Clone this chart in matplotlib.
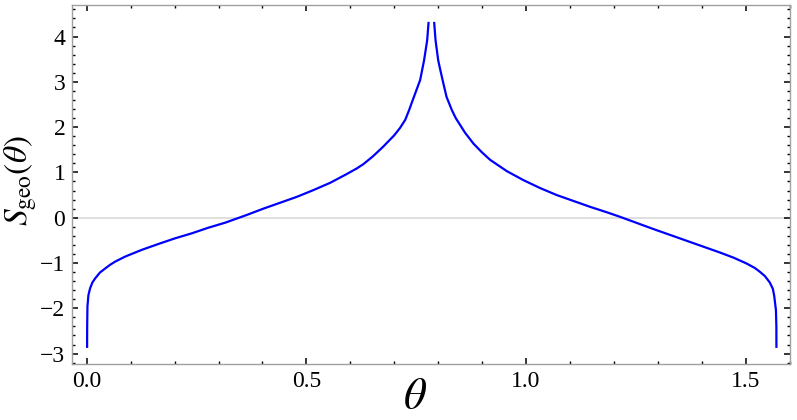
import matplotlib
matplotlib.use("Agg")
import matplotlib.pyplot as plt
from matplotlib.ticker import MultipleLocator, FuncFormatter

# values
theta_left = [0.0007, 0.0009, 0.0015, 0.0037, 0.0075, 0.0128, 0.019, 0.030,
              0.042, 0.053, 0.0645, 0.087, 0.125, 0.163, 0.201, 0.239,
              0.277, 0.315, 0.338, 0.364, 0.402, 0.440, 0.478, 0.516,
              0.554, 0.592, 0.615, 0.630, 0.652, 0.675, 0.700, 0.713,
              0.725, 0.734, 0.743, 0.759, 0.768, 0.775, 0.778]
s_left = [-2.85, -2.40, -1.96, -1.71, -1.56, -1.43, -1.34, -1.21,
          -1.12, -1.04, -0.97, -0.86, -0.71, -0.58, -0.455, -0.345,
          -0.22, -0.11, -0.03, 0.06, 0.20, 0.33, 0.46, 0.61,
          0.77, 0.965, 1.09, 1.185, 1.36, 1.57, 1.82, 1.98,
          2.16, 2.38, 2.62, 3.04, 3.48, 3.92, 4.30]

theta_right = [0.791, 0.794, 0.800, 0.804, 0.811, 0.819, 0.831, 0.840,
               0.861, 0.880, 0.899, 0.918, 0.956, 0.994, 1.032, 1.070,
               1.108, 1.146, 1.184, 1.214, 1.252, 1.290, 1.328, 1.366,
               1.404, 1.442, 1.472, 1.502, 1.521, 1.532, 1.544, 1.555,
               1.562, 1.565, 1.569, 1.5700, 1.5701]
s_right = [4.30, 3.92, 3.48, 3.30, 3.00, 2.67, 2.38, 2.20,
           1.88, 1.64, 1.45, 1.28, 1.03, 0.83, 0.655, 0.50,
           0.37, 0.24, 0.12, 0.02, -0.115, -0.25, -0.38, -0.51,
           -0.64, -0.77, -0.88, -1.01, -1.11, -1.19, -1.29, -1.43,
           -1.57, -1.72, -2.04, -2.40, -2.85]

plt.rcParams['font.family'] = ['Liberation Serif', 'DejaVu Serif']
plt.rcParams['mathtext.fontset'] = 'stix'

fig = plt.figure(figsize=(7.97, 4.2), dpi=100)
ax = fig.add_axes([0.0907, 0.1333, 0.9005, 0.8541])

ax.axhline(0, color='#dcdcdc', lw=1.3, zorder=1)
ax.plot(theta_left, s_left, color='#0000ff', lw=1.6, zorder=3,
        solid_joinstyle='round')
ax.plot(theta_right, s_right, color='#0000ff', lw=1.6, zorder=3,
        solid_joinstyle='round')

ax.set_xlim(-0.033, 1.601)
ax.set_ylim(-3.23, 4.69)

ax.xaxis.set_major_locator(MultipleLocator(0.5))
ax.xaxis.set_minor_locator(MultipleLocator(0.1))
ax.yaxis.set_major_locator(MultipleLocator(1))
ax.yaxis.set_minor_locator(MultipleLocator(0.2))
ax.xaxis.set_major_formatter(FuncFormatter(lambda v, p: '%.1f' % v))
ax.yaxis.set_major_formatter(
    FuncFormatter(lambda v, p: ('%d' % round(v)).replace('-', '\u2212')))

ax.tick_params(which='both', direction='in', top=True, right=True,
               color='black', labelsize=17, pad=5)
ax.tick_params(which='major', length=4, width=1.1)
ax.tick_params(which='minor', length=2.2, width=1.0)

for sp in ax.spines.values():
    sp.set_color('#a0a0a0')
    sp.set_linewidth(1.0)

ax.set_ylabel(r'$S_{\rm geo}(\theta)$', fontsize=24)
ax.yaxis.set_label_coords(-0.047, 0.51)
ax.set_xlabel(r'$\theta$', fontsize=32)
ax.xaxis.set_label_coords(0.478, -0.04)
ax.xaxis.label.set_verticalalignment('top')

fig.savefig('out.png', dpi=100)
